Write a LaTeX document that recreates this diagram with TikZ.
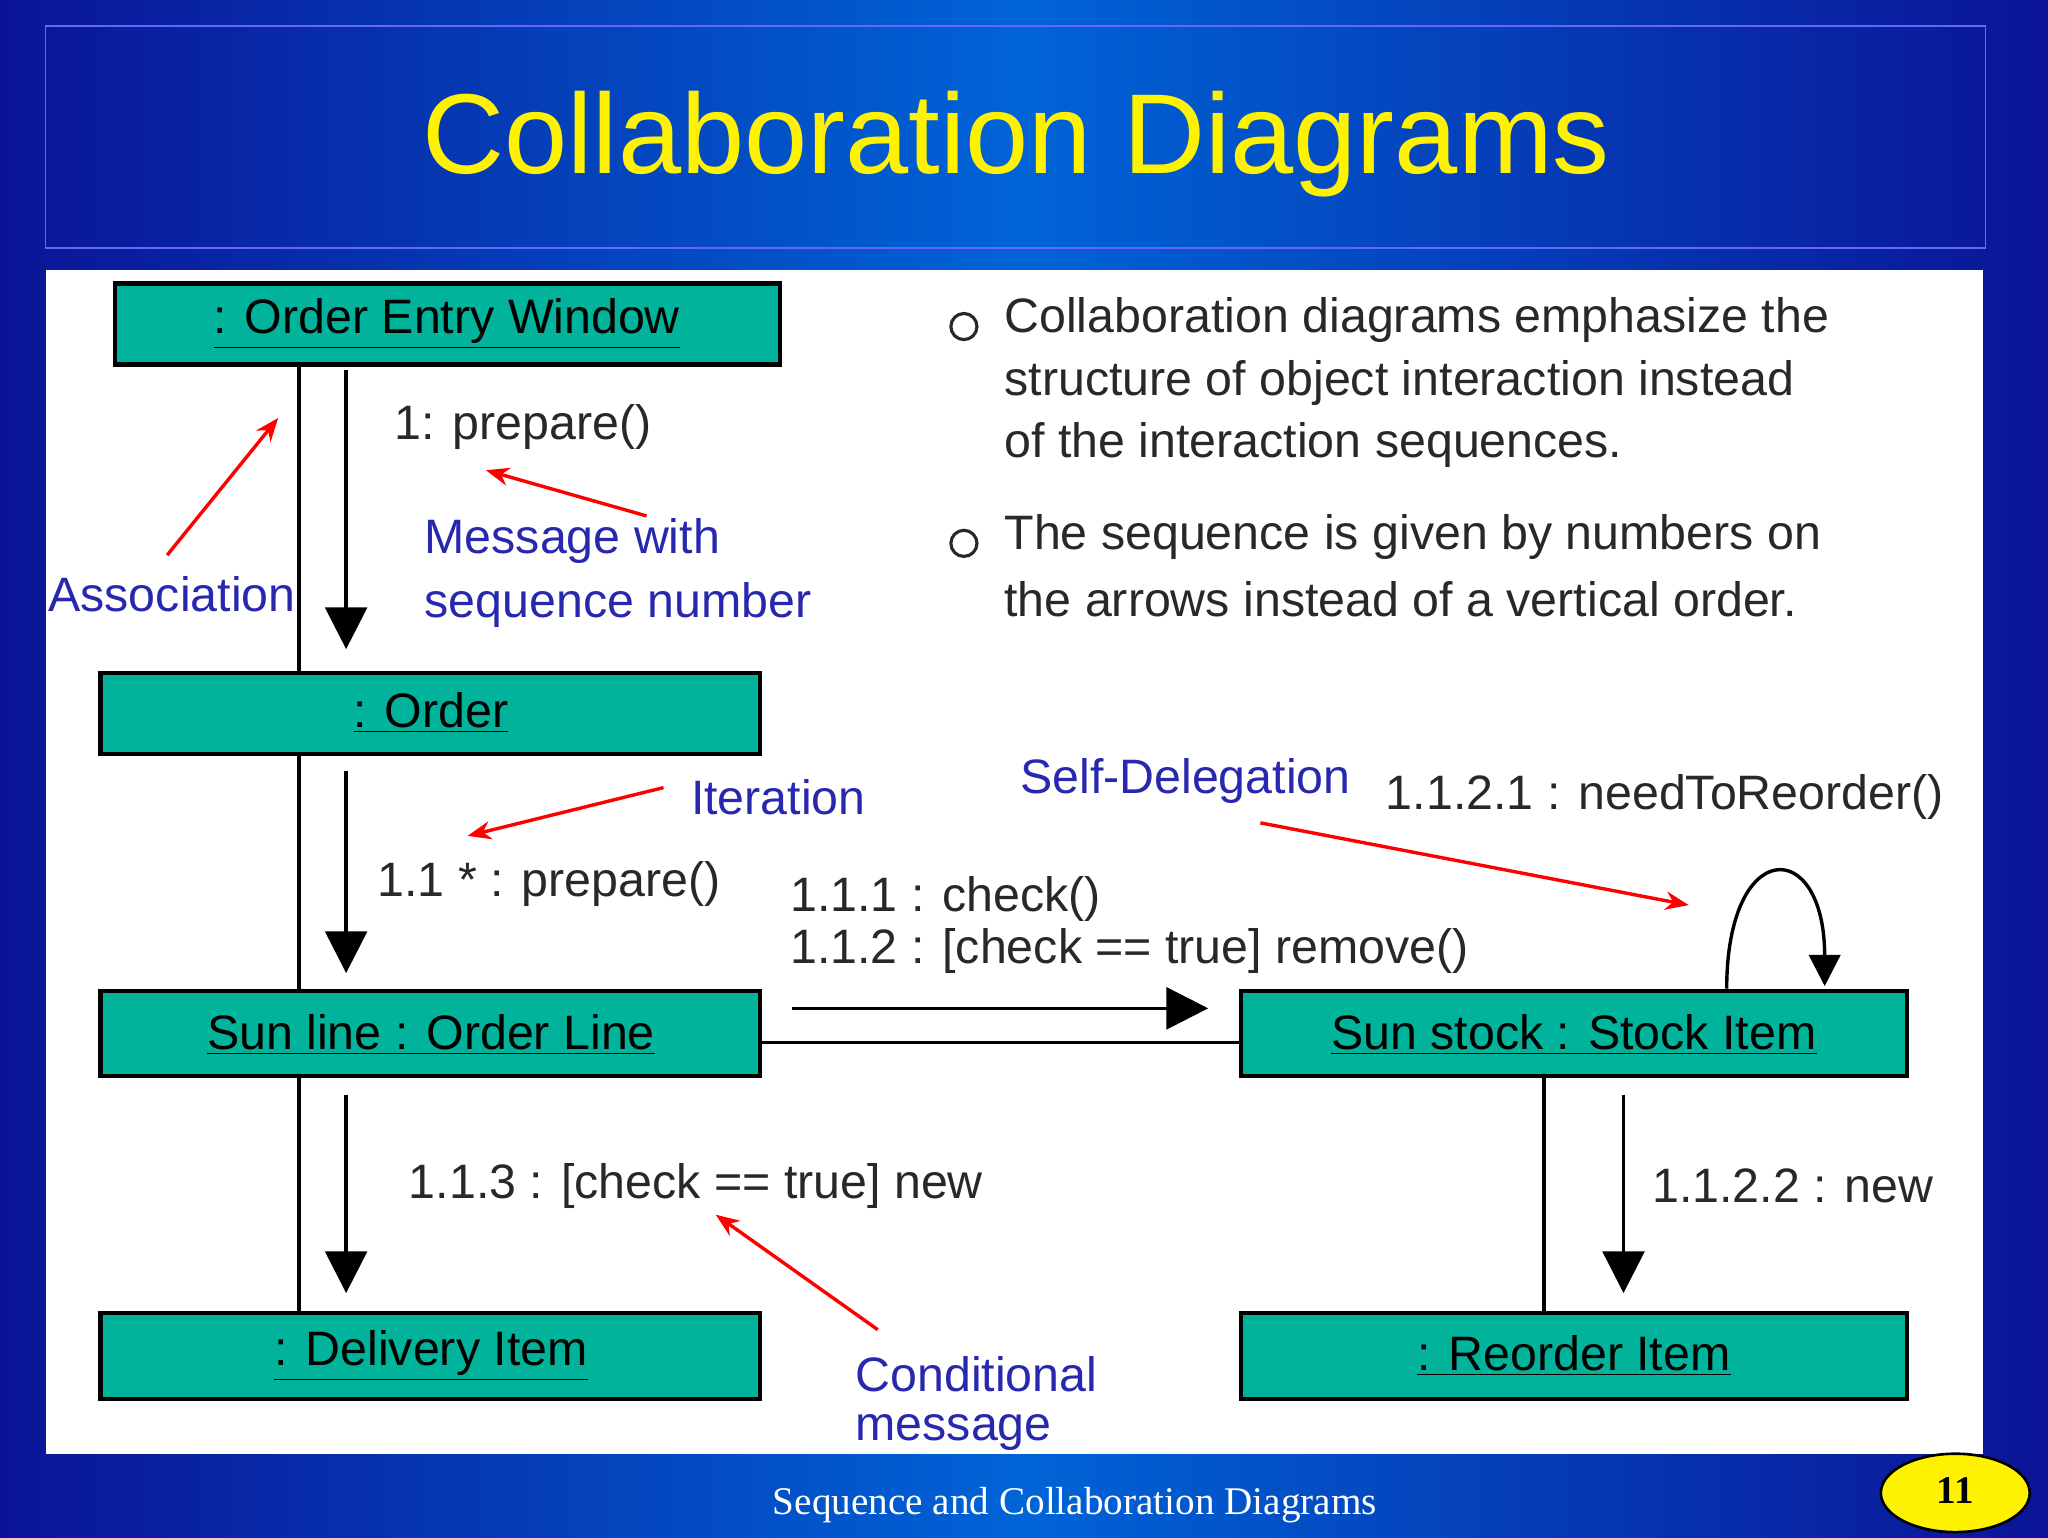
\documentclass[tikz,border=0pt]{standalone}
\usepackage{fontspec}
\setmainfont{Liberation Sans}
\newfontfamily\serifft{Liberation Serif}
\usetikzlibrary{arrows.meta}
\definecolor{teal1}{RGB}{0,179,154}
\definecolor{lblue}{RGB}{40,40,175}
\definecolor{tgray}{RGB}{40,40,40}
\definecolor{bgdark}{RGB}{10,20,150}
\definecolor{bglight}{RGB}{0,100,215}
\tikzset{
  obj/.style={draw=black,line width=1.6pt,fill=teal1},
  objtext/.style={font=\fontsize{18.5}{22}\selectfont,text=black},
  assoc/.style={line width=1.3pt},
  msg/.style={line width=1.3pt,-{Triangle[length=16pt,width=16pt]}},
  note/.style={red,line width=1.3pt,-{Stealth[length=9pt,width=7pt]}},
  lbl/.style={font=\fontsize{18.5}{22}\selectfont,text=tgray,anchor=west},
  blbl/.style={font=\fontsize{18.5}{22}\selectfont,text=lblue,anchor=west},
}
\begin{document}
\begin{tikzpicture}[x=0.5pt,y=-0.5pt]
\useasboundingbox (0,0) rectangle (1568,1177);
\shade[left color=bgdark,right color=bgdark,middle color=bglight] (0,0) rectangle (1568,1177);
\draw[blue!60!white,line width=0.6pt] (35,20) rectangle (1520,190);
\node[text=yellow,font=\fontsize{43.5}{50}\selectfont] (title) at (778,110) {Collaboration Diagrams};
\fill[white] (35,207) rectangle (1518,1113);
% objects
\draw[obj] (88,217) rectangle (597,279); \node[objtext] (oew) at (342,248) {\underline{: Order Entry Window}};
\draw[obj] (77,515) rectangle (582,577); \node[objtext] (ord) at (330,546) {\underline{: Order}};
\draw[obj] (77,759) rectangle (582,824); \node[objtext] (sl) at (330,792) {\underline{Sun line : Order Line}};
\draw[obj] (77,1005) rectangle (582,1071); \node[objtext] (di) at (330,1038) {\underline{: Delivery Item}};
\draw[obj] (950,759) rectangle (1460,824); \node[objtext] (ss) at (1205,792) {\underline{Sun stock : Stock Item}};
\draw[obj] (950,1005) rectangle (1460,1071); \node[objtext] (ri) at (1205,1038) {\underline{: Reorder Item}};
% associations
\draw[assoc] (229,279) -- (229,515);
\draw[assoc] (229,577) -- (229,759);
\draw[assoc] (229,824) -- (229,1005);
\draw[assoc] (1182,824) -- (1182,1005);
\draw[assoc] (582,798) -- (950,798);
% messages
\draw[msg] (265,283) -- (265,497);
\draw[msg] (265,590) -- (265,745);
\draw[msg] (265,838) -- (265,990);
\draw[msg] (1243,838) -- (1243,990);
\draw[msg] (606,772) -- (925,772);
\draw[line width=1.3pt,-{Triangle[length=12pt,width=12pt]}] (1322,757) .. controls (1322,640) and (1397,640) .. (1397,755);
% labels
\node[lbl] at (295,327) {1: prepare()};
\node[blbl] at (318,414) {Message with};
\node[blbl] at (318,463) {sequence number};
\node[blbl] at (30,455) {Association};
\node[blbl] at (522,610) {Iteration};
\node[lbl] at (282,677) {1.1 * : prepare()};
\node[lbl] at (598,688) {1.1.1 : check()};
\node[lbl] at (598,728) {1.1.2 : [check == true] remove()};
\node[blbl] at (774,598) {Self-Delegation};
\node[lbl] at (1054,610) {1.1.2.1 : needToReorder()};
\node[lbl] at (306,908) {1.1.3 : [check == true] new};
\node[lbl] at (1258,908) {1.1.2.2 : new};
\node[blbl] at (648,1052) {Conditional};
\node[blbl] at (648,1097) {message};
% red notes
\draw[note] (128,425) -- (213,320);
\draw[note] (495,395) -- (372,360);
\draw[note] (508,603) -- (358,640);
\draw[note] (965,630) -- (1293,693);
\draw[note] (672,1018) -- (548,930);
% bullets
\draw[tgray,line width=1.2pt] (738,250) circle (10);
\draw[tgray,line width=1.2pt] (738,416) circle (10);
\node[lbl] at (762,245) {Collaboration diagrams emphasize the};
\node[lbl] at (762,293) {structure of object interaction instead};
\node[lbl] at (762,341) {of the interaction sequences.};
\node[lbl] at (762,411) {The sequence is given by numbers on};
\node[lbl] at (762,459) {the arrows instead of a vertical order.};
% footer
\node[text=white,font=\serifft\fontsize{15}{18}\selectfont] (foot) at (823,1152) {Sequence and Collaboration Diagrams};
\draw[fill=yellow,draw=black,line width=1pt] (1497,1143) ellipse (57 and 30);
\node[font=\serifft\bfseries\fontsize{15}{18}\selectfont] (pg) at (1497,1141) {11};
\end{tikzpicture}
\end{document}
